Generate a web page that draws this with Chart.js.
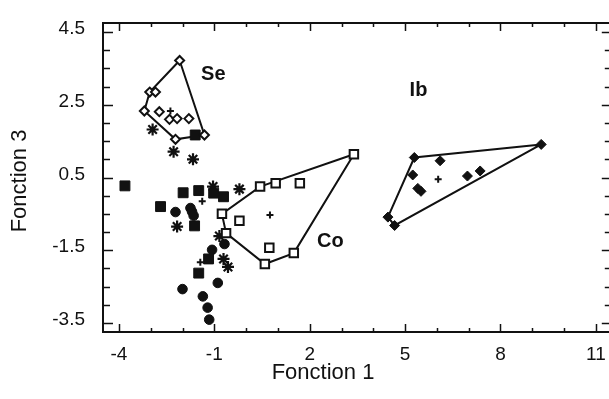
<!DOCTYPE html>
<html><head><meta charset="utf-8">
<script src="https://cdn.jsdelivr.net/npm/chart.js@4.4.0/dist/chart.umd.min.js"></script>
<style>html,body{margin:0;padding:0;overflow:hidden;background:#fff}</style>
</head><body>
<canvas id="c" width="620" height="399" style="display:block;width:620px;height:399px"></canvas>
<script>
// Group Se (open diamonds)
const seX = [-2.09, -3.03, -2.85, -3.20, -2.73, -2.41, -2.17, -1.80, -2.22, -1.31];
const seY = [ 3.72,  2.85,  2.85,  2.33,  2.31,  2.10,  2.12,  2.12,  1.55,  1.67];
const seHull = [0, 1, 3, 8, 9, 0];
// Group Co (open squares)
const coX = [3.39, 0.44, 0.93, 1.69, -0.76, -0.21, -0.63, 0.73, 0.59, 1.50];
const coY = [1.14, 0.25, 0.34, 0.34, -0.50, -0.69, -1.03, -1.43, -1.88, -1.58];
const coHull = [0, 1, 4, 6, 8, 9, 0];
// Group Ib (filled diamonds)
const ibX = [9.28, 5.29, 6.10, 5.24, 6.96, 7.36, 5.40, 5.50, 4.46, 4.67];
const ibY = [1.41, 1.05, 0.96, 0.57, 0.54, 0.68, 0.20, 0.12, -0.59, -0.82];
const ibHull = [0, 1, 8, 9, 0];
// Filled squares
const sqX = [-1.60, -3.81, -2.69, -1.98, -1.49, -1.02, -0.71, -1.62, -1.18, -1.49];
const sqY = [ 1.67,  0.27, -0.30,  0.08,  0.14,  0.07, -0.03, -0.83, -1.74, -2.13];
// Filled circles
const ciX = [-2.22, -1.75, -1.70, -1.65, -0.68, -1.07, -0.89, -2.00, -1.36, -1.21, -1.16];
const ciY = [-0.45, -0.34, -0.44, -0.55, -1.33, -1.49, -2.40, -2.57, -2.77, -3.08, -3.41];
// Asterisks
const stX = [-2.94, -2.28, -1.67, -1.04, -0.21, -2.17, -0.84, -0.71, -0.57];
const stY = [ 1.82,  1.21,  1.00,  0.25,  0.18, -0.85, -1.11, -1.74, -1.96];
// Group centroids (+)
const cenX = [-2.38, 0.75, 6.04, -1.38, -1.44];
const cenY = [ 2.33, -0.53, 0.45, -0.15, -1.83];
// Group labels
const groupNames = ['Se', 'Co', 'Ib'];
const groupLabelX = [-1.03, 2.65, 5.42];
const groupLabelY = [3.34, -1.27, 2.88];
// Axis ticks
const xMinorTicks = [-4,-3,-2,-1,0,1,2,3,4,5,6,7,8,9,10,11];
const xMajorTicks = [-4,-1,2,5,8,11];
const yMinorTicks = [-3.5,-3,-2.5,-2,-1.5,-1,-0.5,0,0.5,1,1.5,2,2.5,3,3.5,4,4.5];
const yMajorTicks = [-3.5,-1.5,0.5,2.5,4.5];
const xTitle = 'Fonction 1';
const yTitle = 'Fonction 3';

const pts = (xs, ys) => xs.map((x, i) => ({x, y: ys[i]}));
const hull = (xs, ys, idx) => idx.map(i => ({x: xs[i], y: ys[i]}));
const FONT = '"Liberation Sans", Arial, sans-serif';
const K = '#111';

const lineDs = (data) => ({type:'line', data, showLine:true, borderColor:K, borderWidth:2, pointRadius:0, fill:false, tension:0, order:5});

const framePlugin = {
  id:'frame',
  afterDraw(chart){
    const ctx = chart.ctx, a = chart.chartArea, xs = chart.scales.x, ys = chart.scales.y;
    ctx.save();
    ctx.strokeStyle = K; ctx.lineWidth = 2;
    ctx.strokeRect(a.left, a.top, a.right - a.left, a.bottom - a.top);
    ctx.lineWidth = 1.5;
    ctx.beginPath();
    xMinorTicks.forEach(v => {
      const p = Math.round(xs.getPixelForValue(v)) + 0.5;
      const L = xMajorTicks.includes(v) ? 8 : 4;
      ctx.moveTo(p, a.bottom); ctx.lineTo(p, a.bottom - L);
      ctx.moveTo(p, a.top); ctx.lineTo(p, a.top + L);
    });
    yMinorTicks.forEach(v => {
      const p = Math.round(ys.getPixelForValue(v)) + 0.5;
      const L = yMajorTicks.includes(v) ? 10 : 7;
      ctx.moveTo(a.left, p); ctx.lineTo(a.left + L, p);
      ctx.moveTo(a.right, p); ctx.lineTo(a.right - L, p);
    });
    ctx.stroke();
    // group labels
    ctx.fillStyle = K;
    ctx.font = 'bold 20px ' + FONT;
    ctx.textAlign = 'center'; ctx.textBaseline = 'middle';
    groupNames.forEach((t, i) => ctx.fillText(t, xs.getPixelForValue(groupLabelX[i]), ys.getPixelForValue(groupLabelY[i])));
    // axis titles
    ctx.font = '22px ' + FONT;
    ctx.fillText(xTitle, 323, 373);
    ctx.translate(20, 181); ctx.rotate(-Math.PI/2);
    ctx.fillText(yTitle, 0, 0);
    ctx.restore();
  }
};

new Chart(document.getElementById('c'), {
  type:'scatter',
  data:{datasets:[
    lineDs(hull(seX, seY, seHull)),
    lineDs(hull(coX, coY, coHull)),
    lineDs(hull(ibX, ibY, ibHull)),
    {data:pts(sqX, sqY), pointStyle:'rect', pointRadius:7, backgroundColor:K, borderColor:K, borderWidth:1, order:3},
    {data:pts(ciX, ciY), pointStyle:'circle', pointRadius:4.8, backgroundColor:K, borderColor:K, borderWidth:1, order:3},
    {data:pts(stX, stY), pointStyle:'star', pointRadius:6, backgroundColor:K, borderColor:K, borderWidth:2.2, order:3},
    {data:pts(seX, seY), pointStyle:'rectRot', pointRadius:4.5, backgroundColor:'#fff', borderColor:K, borderWidth:2, order:2},
    {data:pts(coX, coY), pointStyle:'rect', pointRadius:6, backgroundColor:'#fff', borderColor:K, borderWidth:2, order:2},
    {data:pts(ibX, ibY), pointStyle:'rectRot', pointRadius:5, backgroundColor:K, borderColor:K, borderWidth:1, order:2},
    {data:pts(cenX, cenY), pointStyle:'cross', pointRadius:3.5, backgroundColor:K, borderColor:K, borderWidth:2, order:1}
  ]},
  options:{
    responsive:false, animation:false, devicePixelRatio:1,
    layout:{padding:{top:23, right:7, left:0, bottom:0}},
    plugins:{legend:{display:false}, tooltip:{enabled:false}},
    scales:{
      x:{type:'linear', min:-4.5, max:11.5,
        afterBuildTicks:s => { s.ticks = xMinorTicks.map(v => ({value:v})); },
        afterFit:s => { s.height = 67; },
        grid:{display:false}, border:{display:false},
        ticks:{autoSkip:false, maxRotation:0, padding:3, color:K, font:{family:FONT, size:19},
          callback:v => xMajorTicks.includes(v) ? String(v) : ''}},
      y:{type:'linear', min:-3.75, max:4.75,
        afterBuildTicks:s => { s.ticks = yMinorTicks.map(v => ({value:v})); },
        afterFit:s => { s.width = 103; },
        grid:{display:false}, border:{display:false},
        ticks:{autoSkip:false, padding:10, labelOffset:-3, color:K, font:{family:FONT, size:19},
          callback:v => yMajorTicks.includes(v) ? String(v) : ''}}
    }
  },
  plugins:[framePlugin]
});
</script>
</body></html>
